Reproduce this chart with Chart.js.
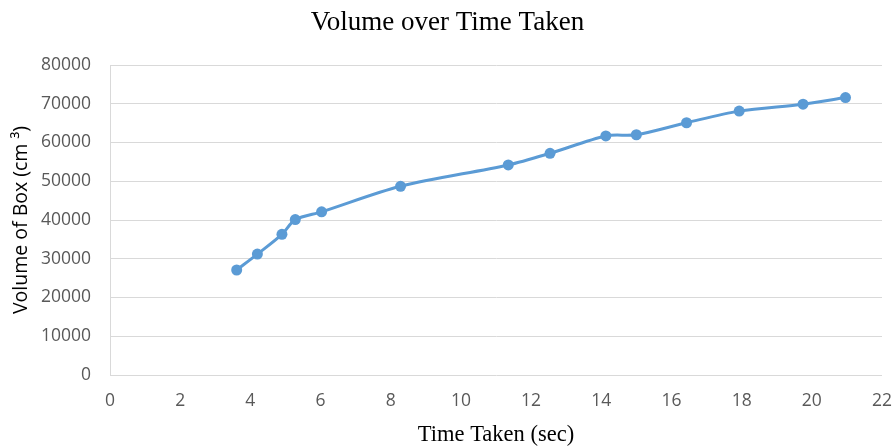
<!DOCTYPE html>
<html>
<head>
<meta charset="utf-8">
<script src="https://cdn.jsdelivr.net/npm/chart.js@4/dist/chart.umd.min.js"></script>
<style>
  html, body { margin: 0; padding: 0; background: #ffffff; }
  #wrap { width: 895px; height: 446px; }
</style>
</head>
<body>
<div id="wrap"><canvas id="chart" width="895" height="446"></canvas></div>
<script>
// Measurements: time taken (seconds) and volume of box (cm³)
const timeTaken = [3.61, 4.20, 4.90, 5.28, 6.03, 8.28, 11.35, 12.54, 14.13, 15.00, 16.43, 17.93, 19.75, 20.96];
const volume    = [27100, 31200, 36300, 40100, 42100, 48700, 54200, 57200, 61700, 62000, 65100, 68100, 69900, 71600];

// Axis ranges and tick spacing
const xTicks = { min: 0, max: 22, step: 2 };
const yTicks = { min: 0, max: 80000, step: 10000 };

const points = timeTaken.map((t, i) => ({ x: t, y: volume[i] }));

const tickFont = { family: "'Open Sans', sans-serif", size: 17.5 };
const gridGrey = '#d9d9d9';
const labelGrey = '#595959';

new Chart(document.getElementById('chart'), {
  type: 'line',
  data: {
    datasets: [{
      label: 'Volume',
      data: points,
      borderColor: '#5b9bd5',
      backgroundColor: '#5b9bd5',
      borderWidth: 3,
      pointRadius: 5.5,
      pointHoverRadius: 5.5,
      pointBackgroundColor: '#5b9bd5',
      pointBorderColor: '#5b9bd5',
      pointBorderWidth: 0,
      tension: 0.3,
      fill: false
    }]
  },
  options: {
    responsive: false,
    animation: false,
    devicePixelRatio: 1,
    layout: { padding: { left: 0, right: 0, top: 0, bottom: 0 } },
    plugins: {
      legend: { display: false },
      tooltip: { enabled: false },
      title: {
        display: true,
        text: 'Volume over Time Taken',
        color: '#000000',
        font: { family: "'Liberation Serif', 'Times New Roman', serif", size: 27, weight: 'normal', lineHeight: 1.2 },
        padding: { top: 7, bottom: 25.6 }
      }
    },
    scales: {
      x: {
        type: 'linear',
        min: xTicks.min,
        max: xTicks.max,
        afterFit: (scale) => {
          scale.height = 71;
          scale.paddingLeft = 0;
          scale.paddingRight = 13;
        },
        ticks: {
          stepSize: xTicks.step,
          color: labelGrey,
          font: tickFont,
          padding: 16,
          maxRotation: 0
        },
        grid: { display: false, drawTicks: false },
        border: { display: false },
        title: {
          display: true,
          text: 'Time Taken (sec)',
          color: '#000000',
          font: { family: "'Liberation Serif', 'Times New Roman', serif", size: 22.5, lineHeight: 1 },
          padding: { top: 0, bottom: 0 }
        }
      },
      y: {
        min: yTicks.min,
        max: yTicks.max,
        afterFit: (scale) => { scale.width = 110; },
        ticks: {
          stepSize: yTicks.step,
          color: labelGrey,
          font: tickFont,
          padding: 19,
          callback: (v) => String(v)
        },
        grid: { color: gridGrey, lineWidth: 1, drawTicks: false },
        border: { display: true, color: gridGrey, width: 1 },
        title: {
          display: true,
          text: 'Volume of Box (cm ³)',
          color: '#000000',
          font: { family: "'Open Sans', sans-serif", size: 19.5, lineHeight: 1.2 },
          padding: { top: 10 }
        }
      }
    }
  }
});
</script>
</body>
</html>
